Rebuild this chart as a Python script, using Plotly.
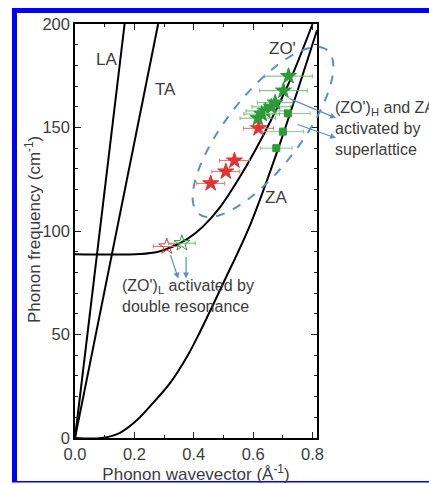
import numpy as np
import plotly.graph_objects as go

# ---- data ----
la_q = [0.0, 0.167]
la_w = [0.0, 200.0]
ta_q = [0.0, 0.28]
ta_w = [0.0, 200.0]

zo_q = [0.0, 0.22, 0.28, 0.33, 0.38, 0.43, 0.49, 0.556, 0.607, 0.66, 0.725, 0.80]
zo_w = [88.8, 88.9, 90.0, 92.5, 96.3, 102.0, 111.8, 126.3, 139.0, 153.5, 173.0, 200.0]

za_q = [0.0, 0.09, 0.15, 0.21, 0.26, 0.32, 0.38, 0.42, 0.50, 0.59, 0.68, 0.75, 0.815]
za_w = [0.0, 0.0, 2.4, 8.8, 16.5, 26.5, 40.0, 51.0, 75.0, 103.0, 138.0, 168.0, 197.0]

red_q = [0.457, 0.508, 0.537, 0.618]
red_w = [123.0, 128.7, 134.0, 149.6]
red_err = [0.047, 0.047, 0.05, 0.05]

red_open_q = [0.309]
red_open_w = [92.5]
red_open_err = [0.045]

green_q = [0.616, 0.629, 0.641, 0.661, 0.674, 0.702, 0.719]
green_w = [154.5, 156.5, 158.0, 160.0, 162.0, 167.8, 174.8]
green_err = [0.06, 0.06, 0.065, 0.065, 0.06, 0.08, 0.08]

green_open_q = [0.36]
green_open_w = [94.1]
green_open_err = [0.045]

green_sq_q = [0.678, 0.700, 0.717]
green_sq_w = [140.0, 148.0, 156.8]
green_sq_err = [0.053, 0.07, 0.075]

# ---- layout geometry ----
W, H = 429, 484
ML, MR, MT, MB = 75, 112, 24, 46
PW, PH = W - ML - MR, H - MT - MB

def px2paper(x, y):
    return (x - ML) / PW, (H - MB - y) / PH

FONT = "Liberation Sans, Arial, sans-serif"
TXT = "#3c3c3c"
BLUE_A = "#5b8fc7"

fig = go.Figure()

for q, w in [(la_q, la_w), (ta_q, ta_w)]:
    fig.add_trace(go.Scatter(x=q, y=w, mode="lines", line=dict(color="black", width=2), hoverinfo="skip"))
fig.add_trace(go.Scatter(x=zo_q, y=zo_w, mode="lines", line=dict(color="black", width=2, shape="spline", smoothing=1.0)))
fig.add_trace(go.Scatter(x=za_q, y=za_w, mode="lines", line=dict(color="black", width=2, shape="spline", smoothing=1.0)))

def pts(q, w, err, sym, col, ecol, size):
    fig.add_trace(go.Scatter(
        x=q, y=w, mode="markers",
        marker=dict(symbol=sym, size=size, color=col, line=dict(color=col, width=1)),
        error_x=dict(type="data", array=err, color=ecol, thickness=1, width=2),
    ))

pts(red_q, red_w, red_err, "star", "#e23236", "#e86a6a", 12)
pts(red_open_q, red_open_w, red_open_err, "star-open", "#e23236", "#e86a6a", 12)
pts(green_q, green_w, green_err, "star", "#2e9a3a", "#72b878", 12)
pts(green_open_q, green_open_w, green_open_err, "star-open", "#2e9a3a", "#72b878", 12)
pts(green_sq_q, green_sq_w, green_sq_err, "square", "#2e9a3a", "#8cc590", 7)

# ---- dashed ellipse (pixel geometry -> paper) ----
cx, cy, a, b, ang = 263.0, 132.0, 104.0, 37.0, np.deg2rad(52)
t = np.linspace(0, 2 * np.pi, 120)
ex = cx + a * np.cos(t) * np.cos(ang) - b * np.sin(t) * np.sin(ang)
ey = cy - (a * np.cos(t) * np.sin(ang) + b * np.sin(t) * np.cos(ang))
path = ""
for i, (x, y) in enumerate(zip(ex, ey)):
    px, py = px2paper(x, y)
    path += ("M" if i == 0 else "L") + f"{px:.4f},{py:.4f} "
path += "Z"
shapes = [dict(type="path", xref="paper", yref="paper", path=path,
               line=dict(color=BLUE_A, width=2, dash="dash"), layer="above")]

# blue frame
def rect(x0, y0, x1, y1):
    p0 = px2paper(x0, y0)
    p1 = px2paper(x1, y1)
    return dict(type="rect", xref="paper", yref="paper", x0=p0[0], y0=p0[1], x1=p1[0], y1=p1[1],
                fillcolor="#0000ff", line=dict(width=0), layer="above")
shapes += [rect(12, 8, 17, 482), rect(12, 8, 430, 13), rect(12, 481, 430, 482.5)]

annotations = []
for txt, x, y in [("LA", 0.105, 183), ("TA", 0.306, 168.5), ("ZO'", 0.70, 188), ("ZA", 0.676, 116)]:
    annotations.append(dict(x=x, y=y, xref="x", yref="y", text=txt, showarrow=False,
                            font=dict(family=FONT, size=17, color=TXT)))

# y-axis title placed as rotated text
yx, yy = px2paper(33, 230)
annotations.append(dict(x=yx, y=yy, xref="paper", yref="paper", textangle=-90, showarrow=False,
                        text="Phonon frequency (cm<sup>-1</sup>)", xanchor="center", yanchor="middle",
                        font=dict(family=FONT, size=17, color=TXT)))

# lower text and arrows
annotations.append(dict(x=0.153, y=68.6, xref="x", yref="y", xanchor="left", yanchor="middle", align="left",
                        text="(ZO')<sub>L</sub> activated by<br>double resonance", showarrow=False,
                        font=dict(family=FONT, size=16, color=TXT)))
for (tq, tw, hq, hw) in [(0.32, 89.0, 0.348, 77.0), (0.374, 88.2, 0.374, 77.0)]:
    annotations.append(dict(x=hq, y=hw, ax=tq, ay=tw, xref="x", yref="y", axref="x", ayref="y",
                            text="", showarrow=True, arrowhead=2, arrowsize=1, arrowwidth=1.2,
                            arrowcolor=BLUE_A))

# upper text and arrows (pixel positions -> paper)
tx, ty = px2paper(333, 128.3)
annotations.append(dict(x=tx, y=ty, xref="paper", yref="paper", xanchor="left", yanchor="middle", align="left",
                        text="(ZO')<sub>H</sub> and ZA<br>activated by<br>superlattice", showarrow=False,
                        font=dict(family=FONT, size=16, color=TXT)))
for (x0, y0, x1, y1) in [(288, 98, 336, 118), (296, 124, 336, 138)]:
    hx, hy = px2paper(x1, y1)
    annotations.append(dict(x=hx, y=hy, xref="paper", yref="paper", ax=x0 - x1, ay=y0 - y1,
                            text="", showarrow=True, arrowhead=2, arrowsize=1, arrowwidth=1.2,
                            arrowcolor=BLUE_A))

axis_common = dict(showline=True, linecolor="black", linewidth=1.5, mirror="ticks",
                   ticks="inside", ticklen=6, tickwidth=1.2, tickcolor="#222",
                   showgrid=False, zeroline=False,
                   tickfont=dict(family=FONT, size=16.5, color=TXT))

fig.update_layout(
    width=W, height=H, margin=dict(l=ML, r=MR, t=MT, b=MB, autoexpand=False),
    paper_bgcolor="white", plot_bgcolor="white", showlegend=False,
    xaxis=dict(range=[0, 0.815], tickvals=[0, 0.2, 0.4, 0.6, 0.8], ticktext=["0.0", "0.2", "0.4", "0.6", "0.8"],
               minor=dict(ticks="inside", dtick=0.1, tick0=0, ticklen=3.5, tickwidth=1.2, tickcolor="#222"),
               title=dict(text="Phonon wavevector (Å<sup>-1</sup>)", standoff=2,
                          font=dict(family=FONT, size=17, color=TXT)),
               **axis_common),
    yaxis=dict(range=[0, 200], tickvals=[0, 50, 100, 150, 200],
               minor=dict(ticks="inside", dtick=10, tick0=0, ticklen=3.5, tickwidth=1.2, tickcolor="#222"),
               **axis_common),
    shapes=shapes, annotations=annotations,
)

fig.write_html("out.html")
